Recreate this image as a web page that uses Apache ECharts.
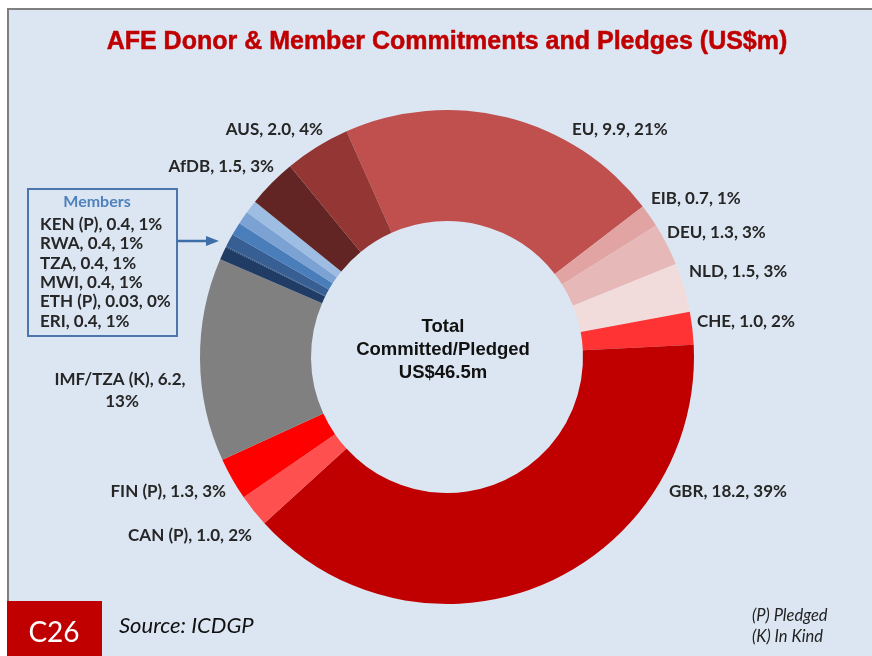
<!DOCTYPE html>
<html>
<head>
<meta charset="utf-8">
<title>AFE Donor & Member Commitments and Pledges</title>
<script src="https://cdn.jsdelivr.net/npm/echarts@6/dist/echarts.min.js"></script>
<style>
    html, body { margin: 0; padding: 0; background: #fff; }
    #chart { width: 872px; height: 656px; }
</style>
</head>
<body>
<div id="chart"></div>
<script>
// 数据 (clockwise from EU)
var donors = ['EU', 'EIB', 'DEU', 'NLD', 'CHE', 'GBR', 'CAN (P)', 'FIN (P)', 'IMF/TZA (K)',
    'ERI', 'ETH (P)', 'MWI', 'TZA', 'RWA', 'KEN (P)', 'AfDB', 'AUS'];
var amounts = [9.9, 0.7, 1.3, 1.5, 1.0, 18.2, 1.0, 1.3, 6.2, 0.4, 0.03, 0.4, 0.4, 0.4, 0.4, 1.5, 2.0];
var shares = [21, 1, 3, 3, 2, 39, 2, 3, 13, 1, 0, 1, 1, 1, 1, 3, 4];
var members = ['ERI', 'ETH (P)', 'MWI', 'TZA', 'RWA', 'KEN (P)'];
var totalPledged = 46.5;

(function () {
    'use strict';
    var myChart = echarts.init(document.getElementById('chart'));

    var sliceColors = {
        'EU': '#c0504d', 'EIB': '#e2a4a3', 'DEU': '#e6b9b8', 'NLD': '#f2dcdb', 'CHE': '#ff3333',
        'GBR': '#c00000', 'CAN (P)': '#ff5050', 'FIN (P)': '#ff0000', 'IMF/TZA (K)': '#808080',
        'ERI': '#203c64', 'ETH (P)': '#264a7a', 'MWI': '#385f93', 'TZA': '#4a7ebb',
        'RWA': '#7ba2d2', 'KEN (P)': '#9dbde2', 'AfDB': '#632523', 'AUS': '#943634'
    };
    // 标签位置 (Excel 手动摆放)
    var labelSpots = {
        'EU': [572, 130, 'left'], 'EIB': [651, 199, 'left'], 'DEU': [667, 233, 'left'],
        'NLD': [689, 272, 'left'], 'CHE': [697, 322, 'left'], 'GBR': [669, 492, 'left'],
        'CAN (P)': [252, 536, 'right'], 'FIN (P)': [226, 492, 'right'],
        'IMF/TZA (K)': [122, 391, 'center'], 'AfDB': [274, 167, 'right'], 'AUS': [323, 130, 'right']
    };

    function fmt(v) {
        return v < 0.1 ? v.toFixed(2) : v.toFixed(1);
    }
    function labelText(i) {
        return donors[i] + ', ' + fmt(amounts[i]) + ', ' + shares[i] + '%';
    }

    var pieData = donors.map(function (name, i) {
        var isMember = members.indexOf(name) >= 0;
        var item = {
            name: name,
            value: amounts[i],
            itemStyle: { color: sliceColors[name] },
            label: { show: !isMember }
        };
        if (name === 'IMF/TZA (K)') {
            item.label.width = 145;
            item.label.overflow = 'break';
            item.label.align = 'center';
        }
        return item;
    });

    var memberLines = members.slice().reverse().map(function (name) {
        return labelText(donors.indexOf(name));
    }).join('\n');

    var labelFont = 'Lato, "Open Sans", sans-serif';

    var option = {
        backgroundColor: '#ffffff',
        animation: false,
        title: {
            text: 'AFE Donor & Member Commitments and Pledges (US$m)',
            left: 442,
            top: 25,
            textAlign: 'center',
            textStyle: {
                color: '#c00000',
                fontFamily: '"Liberation Sans", Arial, sans-serif',
                fontWeight: 'bold',
                fontSize: 25,
                textBorderColor: '#c00000',
                textBorderWidth: 0.5
            }
        },
        graphic: [
            {
                type: 'rect', z: -10, silent: true,
                shape: { x: 8, y: 9, width: 880, height: 660 },
                style: { fill: '#dce6f2', stroke: '#7f7f7f', lineWidth: 2 }
            },
            {
                type: 'rect',
                shape: { x: 28, y: 189, width: 149, height: 147 },
                style: { fill: '#dce6f2', stroke: '#4a76ac', lineWidth: 2 }
            },
            {
                type: 'text', x: 97, y: 202,
                style: {
                    text: 'Members', fill: '#4f81bd', align: 'center', verticalAlign: 'middle',
                    font: 'bold 16px ' + labelFont
                }
            },
            {
                type: 'text', x: 40, y: 215,
                style: {
                    text: memberLines, fill: '#262626',
                    font: 'bold 17px ' + labelFont,
                    lineHeight: 19.3
                }
            },
            {
                type: 'line',
                shape: { x1: 177, y1: 241, x2: 210, y2: 241 },
                style: { stroke: '#3e6ea8', lineWidth: 2.5 }
            },
            {
                type: 'polygon',
                shape: { points: [[206, 236], [219, 241], [206, 246]] },
                style: { fill: '#3e6ea8' }
            },
            {
                type: 'text', x: 443, y: 350, z: 10,
                style: {
                    text: 'Total\nCommitted/Pledged\nUS$' + totalPledged.toFixed(1) + 'm',
                    fill: '#111', align: 'center', verticalAlign: 'middle',
                    font: 'bold 18.5px "Liberation Sans", Arial, sans-serif',
                    lineHeight: 23
                }
            },
            {
                type: 'rect',
                shape: { x: 7, y: 601, width: 95, height: 60 },
                style: { fill: '#c00000' }
            },
            {
                type: 'text', x: 54, y: 633,
                style: {
                    text: 'C26', fill: '#fff', align: 'center', verticalAlign: 'middle',
                    font: '28px ' + labelFont
                }
            },
            {
                type: 'text', x: 119, y: 626,
                style: {
                    text: 'Source: ICDGP', fill: '#111', verticalAlign: 'middle',
                    font: 'italic 22px ' + labelFont
                }
            },
            {
                type: 'text', x: 752, y: 605,
                style: {
                    text: '(P) Pledged\n(K) In Kind', fill: '#222',
                    font: 'italic 16.5px ' + labelFont, lineHeight: 21
                }
            }
        ],
        series: [{
            name: 'Commitments',
            type: 'pie',
            center: [447, 357],
            radius: [136, 247],
            startAngle: 114,
            clockwise: true,
            avoidLabelOverlap: false,
            itemStyle: { borderWidth: 0 },
            label: {
                position: 'outside',
                color: '#262626',
                fontFamily: labelFont,
                fontWeight: 'bold',
                fontSize: 17,
                lineHeight: 22,
                formatter: function (p) {
                    return labelText(p.dataIndex);
                }
            },
            labelLine: { show: false },
            emphasis: { disabled: true },
            labelLayout: function (params) {
                var spot = labelSpots[donors[params.dataIndex]];
                if (!spot) return {};
                return { x: spot[0], y: spot[1], align: spot[2], verticalAlign: 'middle' };
            },
            data: pieData
        }]
    };

    myChart.setOption(option);
    window.addEventListener('resize', function () {
        myChart.resize();
    });
})();
</script>
</body>
</html>
